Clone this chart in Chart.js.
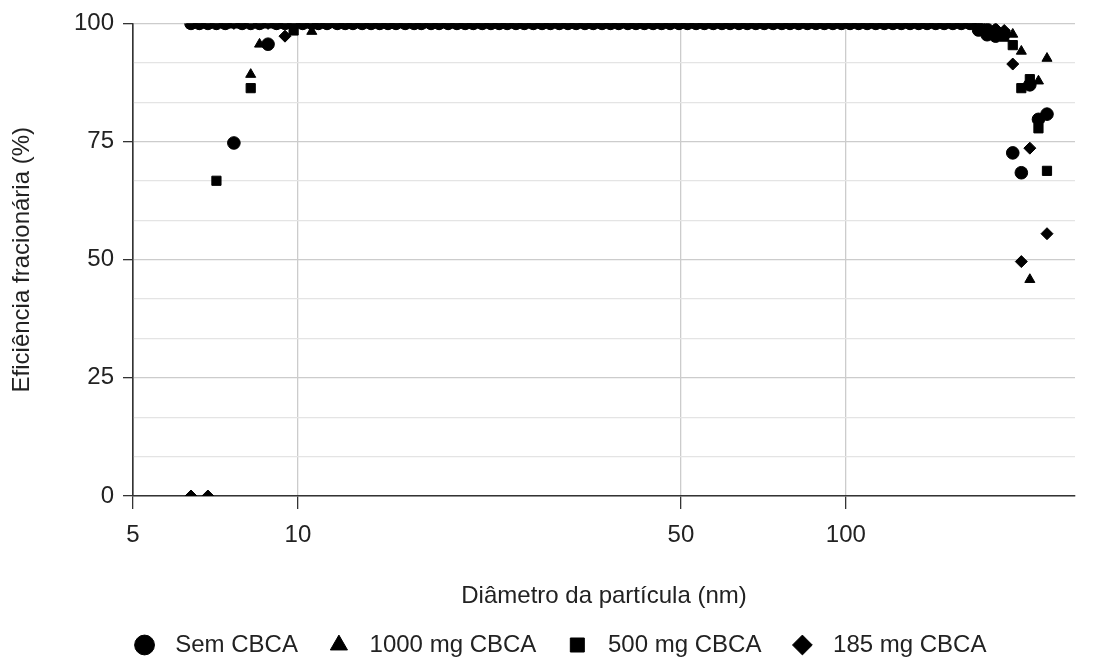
<!DOCTYPE html>
<html>
<head>
<meta charset="utf-8">
<script src="https://cdn.jsdelivr.net/npm/chart.js@4/dist/chart.umd.min.js"></script>
<style>
  html, body { margin: 0; padding: 0; background: #fff; }
  #wrap { width: 1095px; height: 659px; }
</style>
</head>
<body>
<div id="wrap"><canvas id="effChart"></canvas></div>
<script>
// SMPS channel midpoints (nm)
const diameters = [
  6.38, 6.61, 6.85, 7.1, 7.37, 7.64, 7.91, 8.2, 8.51, 8.82,
  9.14, 9.47, 9.82, 10.2, 10.6, 10.9, 11.3, 11.8, 12.2, 12.6,
  13.1, 13.6, 14.1, 14.6, 15.1, 15.7, 16.3, 16.8, 17.5, 18.1,
  18.8, 19.5, 20.2, 20.9, 21.7, 22.5, 23.3, 24.1, 25.0, 25.9,
  26.9, 27.9, 28.9, 30.0, 31.1, 32.2, 33.4, 34.6, 35.9, 37.2,
  38.5, 40.0, 41.4, 42.9, 44.5, 46.1, 47.8, 49.6, 51.4, 53.3,
  55.2, 57.3, 59.4, 61.5, 63.8, 66.1, 68.5, 71.0, 73.7, 76.4,
  79.1, 82.0, 85.1, 88.2, 91.4, 94.7, 98.2, 101.8, 105.5, 109.4,
  113.4, 117.6, 121.9, 126.3, 131.0, 135.8, 140.7, 145.9, 151.2, 156.8,
  162.5, 168.5, 174.7, 181.1, 187.7, 194.6, 201.7, 209.1, 216.7, 224.7,
  232.9
];

// fractional efficiency (%) per channel
const semCBCA = [
  100, 100, 100, 100, 100, 74.7, 100, 100, 100, 95.6,
  100, 100, 100, 100, 100, 100, 100, 100, 100, 100,
  100, 100, 100, 100, 100, 100, 100, 100, 100, 100,
  100, 100, 100, 100, 100, 100, 100, 100, 100, 100,
  100, 100, 100, 100, 100, 100, 100, 100, 100, 100,
  100, 100, 100, 100, 100, 100, 100, 100, 100, 100,
  100, 100, 100, 100, 100, 100, 100, 100, 100, 100,
  100, 100, 100, 100, 100, 100, 100, 100, 100, 100,
  100, 100, 100, 100, 100, 100, 100, 100, 100, 100,
  100, 100, 98.6, 97.6, 97.3, 97.8, 72.6, 68.4, 87.0, 79.7,
  80.8
];
const cbca1000 = [
  100, 100, 100, 100, 100, 100, 100, 89.2, 95.6, 100,
  100, 100, 100, 100, 98.3, 100, 100, 100, 100, 100,
  100, 100, 100, 100, 100, 100, 100, 100, 100, 100,
  100, 100, 100, 100, 100, 100, 100, 100, 100, 100,
  100, 100, 100, 100, 100, 100, 100, 100, 100, 100,
  100, 100, 100, 100, 100, 100, 100, 100, 100, 100,
  100, 100, 100, 100, 100, 100, 100, 100, 100, 100,
  100, 100, 100, 100, 100, 100, 100, 100, 100, 100,
  100, 100, 100, 100, 100, 100, 100, 100, 100, 100,
  100, 100, 100, 99.2, 98.8, 98.2, 97.7, 94.1, 45.8, 87.8,
  92.6
];
const cbca500 = [
  100, 100, 100, 66.7, 100, 100, 100, 86.3, 100, 100,
  100, 100, 98.5, 100, 100, 100, 100, 100, 100, 100,
  100, 100, 100, 100, 100, 100, 100, 100, 100, 100,
  100, 100, 100, 100, 100, 100, 100, 100, 100, 100,
  100, 100, 100, 100, 100, 100, 100, 100, 100, 100,
  100, 100, 100, 100, 100, 100, 100, 100, 100, 100,
  100, 100, 100, 100, 100, 100, 100, 100, 100, 100,
  100, 100, 100, 100, 100, 100, 100, 100, 100, 100,
  100, 100, 100, 100, 100, 100, 100, 100, 100, 100,
  100, 100, 99.0, 98.4, 97.8, 97.2, 95.4, 86.3, 88.2, 77.8,
  68.8
];
const cbca185 = [
  0, 100, 0, 100, 100, 100, 100, 100, 100, 100,
  100, 97.3, 100, 100, 100, 100, 100, 100, 100, 100,
  100, 100, 100, 100, 100, 100, 100, 100, 100, 100,
  100, 100, 100, 100, 100, 100, 100, 100, 100, 100,
  100, 100, 100, 100, 100, 100, 100, 100, 100, 100,
  100, 100, 100, 100, 100, 100, 100, 100, 100, 100,
  100, 100, 100, 100, 100, 100, 100, 100, 100, 100,
  100, 100, 100, 100, 100, 100, 100, 100, 100, 100,
  100, 100, 100, 100, 100, 100, 100, 100, 100, 100,
  100, 100, 100, 99.3, 98.9, 98.5, 91.4, 49.6, 73.6, null,
  55.5
];

const xTicks = [5, 10, 50, 100];

const FONT = "'Liberation Sans', Arial, sans-serif";
const isMajor = v => Math.abs(v / 25 - Math.round(v / 25)) < 1e-6;

function points(values) {
  return diameters.map((d, i) => ({ x: d, y: values[i] })).filter(p => p.y !== null);
}

function series(label, values, style, radius) {
  return {
    label: label,
    data: points(values),
    pointStyle: style,
    pointRadius: radius,
    pointHoverRadius: radius,
    backgroundColor: '#000',
    borderColor: '#000',
    borderWidth: 1,
    clip: 0
  };
}

const chart = new Chart(document.getElementById('effChart'), {
  type: 'scatter',
  data: {
    datasets: [
      series('Sem CBCA', semCBCA, 'circle', 6.3),
      series('1000 mg CBCA', cbca1000, 'triangle', 5.8),
      series('500 mg CBCA', cbca500, 'rect', 6.5),
      series('185 mg CBCA', cbca185, 'rectRot', 6)
    ]
  },
  options: {
    responsive: true,
    maintainAspectRatio: false,
    animation: false,
    layout: { padding: { left: 24, right: 0, top: 19, bottom: -8 } },
    plugins: {
      tooltip: { enabled: false },
      legend: {
        position: 'bottom',
        labels: {
          usePointStyle: true,
          boxWidth: 24,
          boxHeight: 14,
          padding: 29,
          color: '#222',
          font: { family: FONT, size: 24 },
          // a leading space widens the gap between marker and text
          generateLabels: c => Chart.defaults.plugins.legend.labels.generateLabels(c)
            .map(l => Object.assign(l, { text: ' ' + l.text }))
        }
      }
    },
    scales: {
      x: {
        type: 'logarithmic',
        min: 5,
        max: 262,
        afterBuildTicks: s => { s.ticks = xTicks.map(v => ({ value: v })); },
        afterFit: s => { s.height = 108; s.paddingRight = 20; },
        ticks: {
          color: '#222',
          font: { family: FONT, size: 24 },
          padding: 12,
          maxRotation: 0,
          autoSkip: false,
          callback: v => String(v)
        },
        grid: {
          color: ctx => ctx.tick && ctx.tick.value === 5 ? '#333' : '#cccccc',
          tickColor: '#333',
          tickLength: 13,
          lineWidth: 1.3
        },
        border: { color: '#333', width: 1.5 },
        title: {
          display: true,
          text: 'Diâmetro da partícula (nm)',
          color: '#222',
          font: { family: FONT, size: 24 },
          padding: { top: 0, bottom: -7 }
        }
      },
      y: {
        min: 0,
        max: 100,
        afterBuildTicks: s => {
          const t = [];
          for (let k = 0; k <= 12; k++) t.push({ value: k * 25 / 3 });
          s.ticks = t;
        },
        afterFit: s => { s.width = 109; },
        ticks: {
          color: '#222',
          font: { family: FONT, size: 24 },
          padding: 9,
          autoSkip: false,
          callback: v => isMajor(v) ? String(Math.round(v)) : ''
        },
        grid: {
          color: ctx => ctx.tick && isMajor(ctx.tick.value) ? '#cccccc' : '#e4e4e4',
          tickColor: ctx => ctx.tick && isMajor(ctx.tick.value) ? '#333' : 'rgba(0,0,0,0)',
          tickLength: 10,
          lineWidth: 1.3
        },
        border: { color: '#333', width: 1.5 },
        title: {
          display: true,
          text: 'Eficiência fracionária (%)',
          color: '#222',
          font: { family: FONT, size: 24 },
          padding: { top: -16, bottom: 0 }
        }
      }
    }
  }
});
</script>
</body>
</html>
